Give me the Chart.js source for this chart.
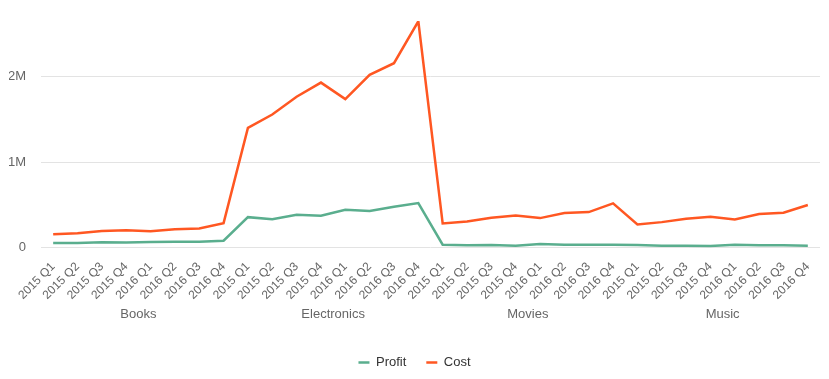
<!DOCTYPE html>
<html>
<head>
<meta charset="utf-8">
<script src="https://cdn.jsdelivr.net/npm/chart.js@4.4.0/dist/chart.umd.min.js"></script>
<style>
    html, body { margin: 0; padding: 0; background: #fff; }
    #wrap { width: 829px; height: 379px; }
</style>
</head>
<body>
<div id="wrap"><canvas id="salesChart"></canvas></div>
<script>
// Datos
const groups = ['Books', 'Electronics', 'Movies', 'Music'];
const quarters = ['2015 Q1', '2015 Q2', '2015 Q3', '2015 Q4', '2016 Q1', '2016 Q2', '2016 Q3', '2016 Q4'];
const yTicks = [0, 1000000, 2000000];

const profit = [
    55000, 55000, 63000, 60000, 67000, 70000, 70000, 82000,
    357000, 334000, 385000, 373000, 443000, 428000, 479000, 522000,
    35000, 28000, 31000, 24000, 43000, 35000, 35000, 35000,
    31000, 24000, 24000, 20000, 35000, 28000, 28000, 24000
];
const cost = [
    157000, 170000, 196000, 205000, 193000, 216000, 224000, 287000,
    1400000, 1557000, 1765000, 1930000, 1737000, 2020000, 2157000, 2647000,
    283000, 306000, 349000, 376000, 346000, 405000, 416000, 518000,
    271000, 299000, 338000, 361000, 330000, 393000, 408000, 499000
];

const COLORS = {
    profit: '#5aae8e',
    cost: '#ff5722',
    grid: '#e3e3e3',
    tick: '#666666',
    legend: '#333333'
};
const FONT = 'Liberation Sans, Arial, sans-serif';

// 32 categorías: 8 trimestres por grupo
const labels = [];
groups.forEach(() => quarters.forEach(q => labels.push(q)));

function formatM(v) {
    return v === 0 ? '0' : (v / 1000000) + 'M';
}

const ctx = document.getElementById('salesChart').getContext('2d');
new Chart(ctx, {
    type: 'line',
    data: {
        labels: labels,
        datasets: [
            {
                label: 'Profit',
                data: profit,
                borderColor: COLORS.profit,
                backgroundColor: COLORS.profit,
                borderWidth: 2.5,
                pointRadius: 0,
                tension: 0
            },
            {
                label: 'Cost',
                data: cost,
                borderColor: COLORS.cost,
                backgroundColor: COLORS.cost,
                borderWidth: 2.5,
                pointRadius: 0,
                tension: 0
            }
        ]
    },
    options: {
        responsive: true,
        maintainAspectRatio: false,
        animation: false,
        layout: { padding: { top: 21, right: 9, left: 9, bottom: 0 } },
        scales: {
            // trimestres, girados 45°
            x: {
                offset: true,
                grid: { display: false, drawTicks: false },
                border: { display: false },
                afterFit: scale => {
                    scale.paddingLeft = 0;
                    scale.paddingRight = 0;
                    scale.height = 58.5;
                },
                ticks: {
                    color: COLORS.tick,
                    font: { family: FONT, size: 12 },
                    minRotation: 45,
                    maxRotation: 45,
                    autoSkip: false,
                    padding: 12
                }
            },
            // categorías de producto
            x2: {
                type: 'category',
                labels: groups,
                position: 'bottom',
                offset: true,
                grid: { display: false, drawTicks: false },
                border: { display: false },
                afterFit: scale => {
                    scale.paddingLeft = 0;
                    scale.paddingRight = 0;
                    scale.height = 29.8;
                },
                ticks: {
                    color: COLORS.tick,
                    font: { family: FONT, size: 13 },
                    padding: 0
                }
            },
            y: {
                min: 0,
                max: 2650000,
                grid: { color: COLORS.grid, drawTicks: false },
                border: { display: false },
                afterBuildTicks: scale => {
                    scale.ticks = yTicks.map(v => ({ value: v }));
                },
                afterFit: scale => {
                    scale.width = 32;
                    scale.paddingTop = 0;
                    scale.paddingBottom = 0;
                },
                ticks: {
                    color: COLORS.tick,
                    font: { family: FONT, size: 13 },
                    padding: 15,
                    callback: value => formatM(value)
                }
            }
        },
        plugins: {
            legend: {
                position: 'bottom',
                labels: {
                    color: COLORS.legend,
                    usePointStyle: true,
                    pointStyle: 'line',
                    pointStyleWidth: 11,
                    padding: 20,
                    font: { family: FONT, size: 13 }
                }
            },
            tooltip: { enabled: false }
        }
    }
});
</script>
</body>
</html>
